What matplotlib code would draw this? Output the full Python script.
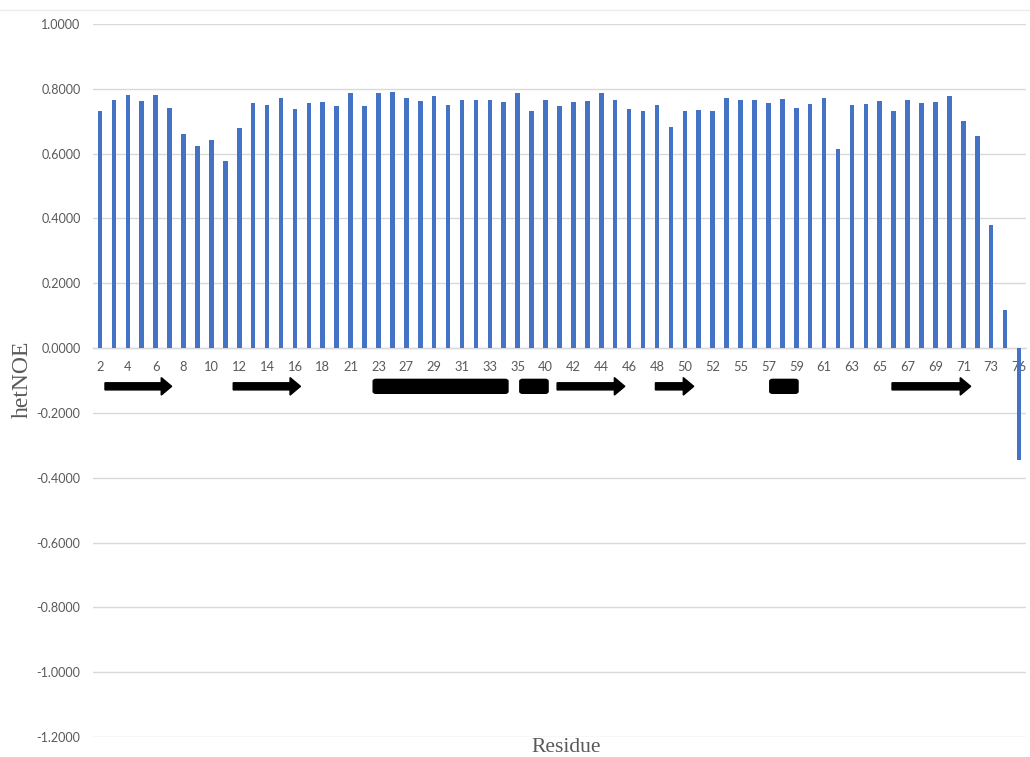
import matplotlib
matplotlib.use("Agg")
import matplotlib.pyplot as plt
from matplotlib.patches import FancyArrow, FancyBboxPatch

# Residues with a measured heteronuclear NOE
residues = [2, 3, 4, 5, 6, 7, 8, 9, 10, 11, 12, 13, 14, 15, 16, 17, 18,
            20, 21, 22, 23, 24, 27, 28, 29, 30, 31, 32, 33, 34, 35, 36,
            40, 41, 42, 43, 44, 45, 46, 47, 48, 49, 50, 51, 52, 54,
            55, 56, 57, 58, 59, 60, 61, 62, 63, 64, 65, 66, 67, 68, 69, 70,
            71, 72, 73, 74, 76]

het_noe = [0.733, 0.765, 0.781, 0.763, 0.781, 0.740, 0.660, 0.623, 0.641, 0.578,
           0.680, 0.756, 0.750, 0.773, 0.738, 0.756, 0.760,
           0.747, 0.788, 0.747, 0.788, 0.790, 0.773, 0.763, 0.777, 0.751,
           0.767, 0.765, 0.765, 0.758, 0.788, 0.733,
           0.765, 0.747, 0.758, 0.763, 0.786, 0.765, 0.738, 0.731, 0.751,
           0.682, 0.733, 0.735, 0.733, 0.772,
           0.765, 0.767, 0.756, 0.770, 0.740, 0.753, 0.772, 0.614, 0.751,
           0.753, 0.762, 0.733, 0.765, 0.756, 0.760, 0.779,
           0.701, 0.655, 0.381, 0.118, -0.344]

y_ticks = [-1.2, -1.0, -0.8, -0.6, -0.4, -0.2, 0.0, 0.2, 0.4, 0.6, 0.8, 1.0]

# Secondary structure along the sequence (bar-slot units): strands and helices
strands = [(0.36, 5.15), (9.57, 14.4), (32.83, 37.69), (39.89, 42.64), (56.88, 62.53)]
helices = [(19.62, 29.3), (30.15, 32.18), (48.1, 50.13)]

bar_color = "#4472C4"
grid_color = "#d9d9d9"
text_color = "#595959"

fig = plt.figure(figsize=(10.30, 7.57), dpi=100)
ax = fig.add_axes([0.0903, 0.0264, 0.9058, 0.9419])

x = list(range(len(residues)))
ax.bar(x, het_noe, width=0.33, color=bar_color, zorder=3)

ax.set_xlim(-0.5, len(residues) - 0.5)
ax.set_ylim(-1.2, 1.0)
ax.set_yticks(y_ticks)
ax.set_yticklabels([f"{v:.4f}" for v in y_ticks])
ax.yaxis.grid(True, color=grid_color, linewidth=1.0)
ax.set_axisbelow(True)

ax.set_xticks(x[::2])
ax.set_xticklabels([str(r) for r in residues[::2]])

for side in ["left", "right", "top"]:
    ax.spines[side].set_visible(False)
ax.spines["bottom"].set_position(("data", 0))
ax.spines["bottom"].set_color(grid_color)
ax.spines["bottom"].set_linewidth(1.0)

ax.tick_params(axis="both", length=0, labelsize=9, labelcolor=text_color)
ax.tick_params(axis="y", pad=9)
ax.tick_params(axis="x", pad=9, labelsize=9.3)
for lab in ax.get_xticklabels() + ax.get_yticklabels():
    lab.set_fontfamily("Lato")

# Secondary structure cartoon under the axis
ss_y = -0.118
for s, e in strands:
    ax.add_patch(FancyArrow(s, ss_y, e - s, 0, width=0.022, head_width=0.054,
                            head_length=0.75, length_includes_head=True,
                            color="black", zorder=4, clip_on=False))
for s, e in helices:
    ax.add_patch(FancyBboxPatch((s + 0.2, ss_y - 0.0155), e - s - 0.4, 0.031,
                                boxstyle="round,pad=0.2,rounding_size=0.2",
                                mutation_aspect=0.03,
                                facecolor="black", edgecolor="black", zorder=4))

fig.text(22 / 1030, 1 - 379 / 757, "hetNOE", rotation=90, ha="center", va="center",
         fontfamily="Liberation Serif", fontsize=17, color=text_color)
fig.text(566 / 1030, 1 - 747 / 757, "Residue", ha="center", va="center",
         fontfamily="Liberation Serif", fontsize=15.5, color=text_color)

fig.add_artist(plt.Line2D([0, 1], [1 - 10 / 757, 1 - 10 / 757],
                          color="#ebebeb", linewidth=1.0))

fig.savefig("out.png", dpi=100)
